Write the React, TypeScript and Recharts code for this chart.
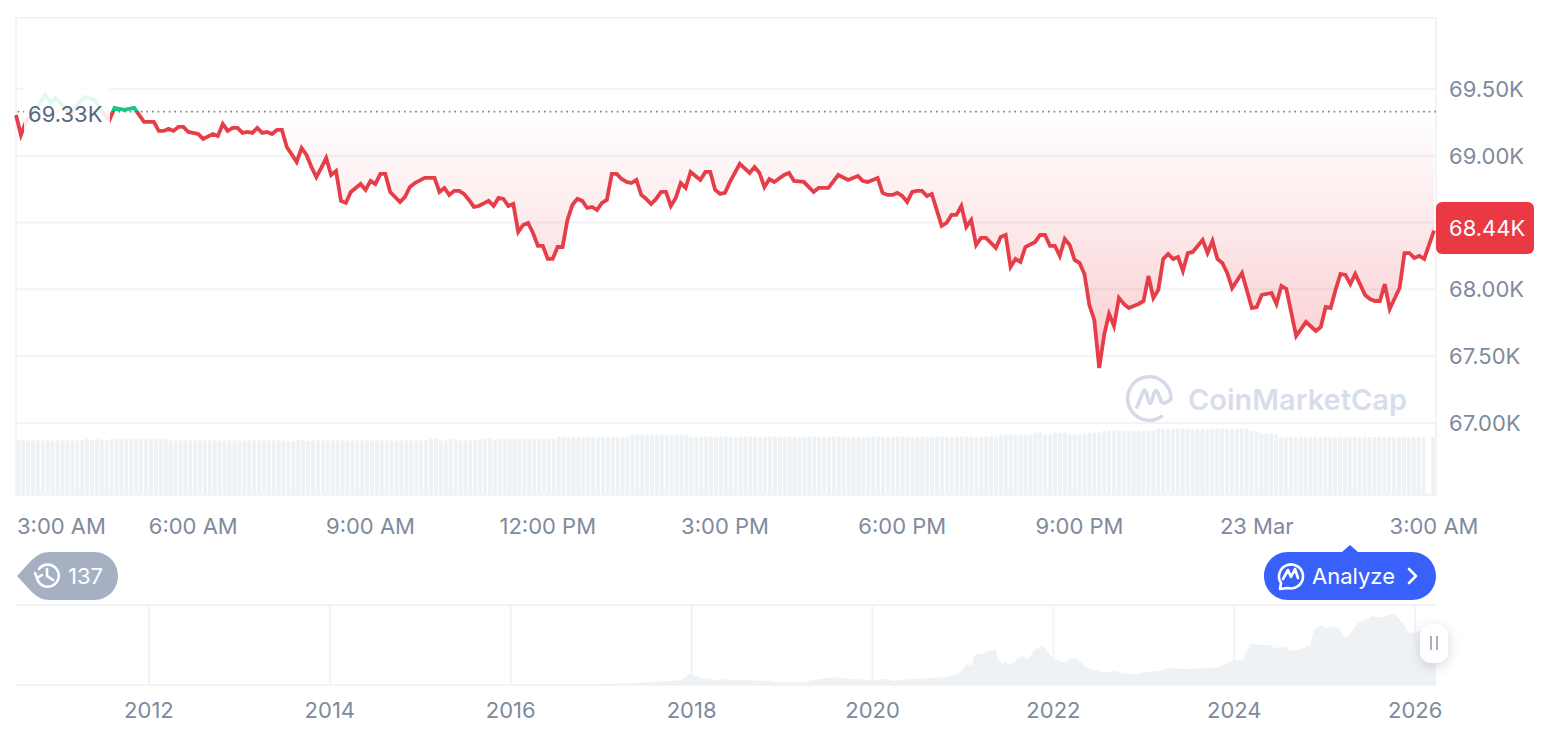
import {
  Area,
  AreaChart,
  Bar,
  BarChart,
  CartesianGrid,
  ComposedChart,
  Line,
  ReferenceLine,
  XAxis,
  YAxis,
} from "recharts";

const WIDTH = 1566;
const HEIGHT = 732;

const RED = "#ea3943";
const LINE_RED = "#e53e49";
const GREEN = "#16c784";
const GRID = "#f1f3f6";
const VOLUME = "#eff2f5";
const AXIS_TEXT = "#808a9d";
const FONT = "Inter, sans-serif";

const BASE_PRICE = 69330;
const LAST_PRICE = 68440;

// minutes since 3:00 AM
const minutes = [
  0, 5, 10, 30, 35, 40, 50, 55, 60, 70, 80, 90, 95, 100, 110, 120, 130, 140, 145, 150,
  155, 160, 165, 170, 175, 185, 190, 200, 205, 210, 215, 220, 225, 230, 235, 240, 245, 250, 255, 260,
  265, 270, 275, 285, 290, 295, 300, 305, 310, 315, 320, 325, 330, 335, 340, 350, 355, 360, 365, 370,
  375, 380, 390, 395, 400, 405, 415, 425, 430, 435, 440, 445, 450, 455, 460, 465, 470, 480, 485, 490,
  495, 500, 505, 510, 515, 520, 525, 530, 535, 540, 545, 550, 555, 560, 565, 570, 575, 580, 585, 590,
  595, 600, 605, 610, 615, 620, 625, 630, 635, 640, 645, 650, 655, 660, 665, 670, 675, 680, 685, 690,
  695, 700, 705, 710, 715, 720, 725, 735, 745, 750, 755, 760, 765, 770, 780, 785, 790, 800, 810, 815,
  825, 835, 845, 855, 860, 865, 875, 880, 885, 890, 895, 900, 905, 910, 915, 920, 925, 930, 940, 945,
  950, 955, 960, 965, 970, 975, 980, 985, 995, 1000, 1005, 1010, 1015, 1020, 1025, 1035, 1040, 1045, 1050, 1055,
  1060, 1065, 1070, 1075, 1080, 1085, 1090, 1095, 1100, 1105, 1110, 1115, 1120, 1125, 1130, 1135, 1140, 1145, 1150, 1155,
  1160, 1165, 1170, 1175, 1180, 1185, 1190, 1195, 1205, 1210, 1215, 1220, 1225, 1230, 1235, 1245, 1255, 1260, 1265, 1275,
  1280, 1285, 1290, 1300, 1310, 1320, 1325, 1330, 1335, 1340, 1345, 1350, 1355, 1360, 1370, 1375, 1380, 1385, 1390, 1395,
  1405, 1410, 1415, 1420, 1425, 1430, 1440,
];

const prices = [
  69305, 69156, 69253, 69455, 69395, 69433, 69358, 69305, 69365, 69440, 69418, 69305, 69268, 69358, 69343, 69358, 69253, 69253, 69186, 69186,
  69201, 69186, 69216, 69216, 69178, 69163, 69126, 69163, 69148, 69238, 69186, 69208, 69208, 69171, 69178, 69171, 69208, 69171, 69178, 69163,
  69193, 69193, 69066, 68954, 69058, 69006, 68916, 68841, 68909, 68984, 68856, 68886, 68662, 68647, 68729, 68789, 68744, 68811, 68789, 68864,
  68864, 68729, 68654, 68692, 68766, 68796, 68834, 68834, 68729, 68759, 68707, 68737, 68737, 68714, 68669, 68617, 68624, 68662, 68624, 68684,
  68677, 68624, 68639, 68430, 68482, 68497, 68422, 68325, 68325, 68228, 68228, 68317, 68317, 68519, 68632, 68677, 68662, 68609, 68617, 68594,
  68647, 68669, 68864, 68864, 68826, 68804, 68796, 68819, 68707, 68677, 68639, 68677, 68729, 68729, 68624, 68684, 68796, 68759, 68879, 68849,
  68819, 68879, 68879, 68744, 68714, 68722, 68804, 68939, 68871, 68916, 68871, 68766, 68826, 68804, 68856, 68871, 68811, 68804, 68729, 68759,
  68759, 68856, 68819, 68849, 68811, 68804, 68834, 68722, 68707, 68707, 68722, 68699, 68654, 68729, 68737, 68737, 68699, 68714, 68475, 68497,
  68557, 68557, 68624, 68467, 68519, 68332, 68385, 68385, 68310, 68392, 68407, 68168, 68228, 68205, 68317, 68355, 68407, 68407, 68325, 68325,
  68250, 68377, 68332, 68220, 68198, 68115, 67883, 67771, 67412, 67659, 67816, 67726, 67936, 67891, 67861, 67876, 67891, 67913, 68100, 67936,
  67996, 68228, 68265, 68228, 68243, 68138, 68272, 68280, 68370, 68272, 68362, 68228, 68198, 68123, 68010, 68123, 67861, 67868, 67958, 67973,
  67891, 68025, 68003, 67651, 67756, 67689, 67719, 67868, 67861, 67996, 68115, 68108, 68040, 68115, 67958, 67928, 67913, 67913, 68040, 67853,
  68010, 68272, 68272, 68235, 68250, 68228, 68440,
];

// 24h volume in $B, one bar per 5 minutes
const volumes = [
  22.0, 22.0, 22.0, 22.0, 22.0, 22.0, 22.0, 22.0, 22.0, 22.0,
  22.0, 22.0, 22.0, 22.0, 22.6, 22.2, 22.6, 22.2, 22.0, 22.6,
  22.6, 22.6, 22.6, 22.6, 22.6, 22.6, 22.6, 22.6, 22.6, 22.6,
  22.6, 22.0, 22.0, 22.0, 22.0, 22.0, 22.0, 22.0, 22.0, 22.0,
  22.0, 22.0, 22.0, 22.0, 22.0, 22.0, 22.0, 22.0, 22.0, 22.0,
  22.0, 22.0, 22.0, 22.0, 22.0, 21.6, 21.6, 22.2, 22.2, 21.8,
  22.0, 22.0, 22.0, 22.0, 22.0, 22.0, 22.0, 22.0, 22.0, 22.0,
  22.0, 22.0, 22.0, 22.0, 22.0, 22.0, 22.0, 22.0, 22.0, 22.0,
  22.0, 22.0, 22.0, 22.0, 22.6, 22.6, 22.0, 22.0, 22.6, 22.6,
  22.0, 22.0, 22.0, 22.0, 22.6, 22.6, 22.6, 22.0, 22.6, 22.6,
  22.6, 22.6, 22.6, 22.6, 22.6, 22.6, 22.6, 22.6, 22.6, 22.6,
  23.4, 23.4, 23.4, 23.4, 23.4, 23.4, 23.4, 23.4, 23.4, 23.4,
  23.4, 23.4, 23.4, 23.4, 23.4, 24.2, 24.2, 24.2, 24.2, 24.2,
  24.2, 24.2, 24.2, 24.2, 24.2, 24.2, 24.2, 23.5, 23.5, 23.5,
  23.5, 23.5, 23.5, 23.5, 23.5, 23.5, 23.5, 23.5, 23.5, 23.5,
  23.5, 23.5, 23.5, 23.5, 23.5, 23.5, 23.5, 23.5, 23.5, 23.5,
  23.5, 23.5, 23.5, 23.5, 23.5, 23.5, 23.5, 23.5, 23.5, 23.5,
  23.5, 23.5, 23.5, 23.5, 23.5, 23.5, 23.5, 23.5, 23.5, 23.5,
  23.5, 23.5, 23.5, 23.5, 23.5, 23.5, 23.5, 23.5, 23.5, 23.5,
  23.5, 23.5, 23.5, 23.5, 23.5, 23.5, 23.5, 23.5, 23.5, 23.5,
  24.3, 24.3, 24.3, 24.3, 24.3, 24.3, 24.3, 25.1, 25.1, 24.3,
  24.3, 25.1, 25.1, 25.1, 24.3, 24.3, 24.3, 24.3, 25.1, 25.1,
  25.1, 25.9, 25.9, 25.9, 25.9, 25.9, 25.9, 25.9, 25.9, 25.9,
  25.9, 25.9, 26.7, 26.7, 26.7, 26.7, 26.7, 26.7, 26.7, 26.7,
  26.7, 26.7, 26.7, 26.7, 26.7, 26.7, 26.7, 26.7, 26.7, 26.7,
  26.7, 25.7, 25.7, 24.7, 24.7, 24.7, 24.3, 23.3, 23.3, 23.3,
  23.3, 23.3, 23.3, 23.3, 23.3, 23.3, 23.3, 23.3, 23.3, 23.3,
  23.3, 23.3, 23.3, 23.3, 23.3, 23.3, 23.3, 23.3, 23.3, 23.3,
  23.3, 23.3, 23.3, 23.3, 23.3, 23.3, 23.3, 0, 23.3,
];

const priceTicks = [67000, 67500, 68000, 68500, 69000, 69500];
const timeTicks = [0, 180, 360, 540, 720, 900, 1080, 1260, 1440];
const timeLabels = ["3:00 AM", "6:00 AM", "9:00 AM", "12:00 PM", "3:00 PM", "6:00 PM", "9:00 PM", "23 Mar", "3:00 AM"];

// all-time navigator below the chart
const navYears = [
  2010.53, 2012, 2014, 2016, 2017, 2017.44, 2017.61, 2017.75, 2017.86, 2017.92, 2017.97, 2018, 2018.03, 2018.07, 2018.14, 2018.2, 2018.26, 2018.35, 2018.45, 2018.58,
  2018.75, 2018.88, 2018.94, 2019.22, 2019.34, 2019.51, 2019.6, 2019.75, 2019.85, 2019.98, 2020.15, 2020.23, 2020.4, 2020.66, 2020.83, 2020.95, 2021.04, 2021.1, 2021.12, 2021.17,
  2021.2, 2021.27, 2021.36, 2021.4, 2021.44, 2021.47, 2021.5, 2021.57, 2021.61, 2021.67, 2021.72, 2021.78, 2021.82, 2021.88, 2021.93, 2021.99, 2022.05, 2022.12, 2022.18, 2022.25,
  2022.31, 2022.37, 2022.56, 2022.67, 2022.78, 2022.9, 2023.03, 2023.16, 2023.3, 2023.45, 2023.63, 2023.82, 2024, 2024.09, 2024.18, 2024.28, 2024.39, 2024.46, 2024.55, 2024.62,
  2024.73, 2024.84, 2024.88, 2024.95, 2025.01, 2025.1, 2025.16, 2025.21, 2025.27, 2025.36, 2025.43, 2025.52, 2025.63, 2025.76, 2025.87, 2025.93, 2026.02, 2026.06, 2026.13, 2026.23,
];

const navPrices = [
  700, 800, 900, 1000, 1500, 4081, 5830, 7000, 8160, 11660, 19240, 20400, 14575, 15740, 9900, 12240, 8160, 9900, 8160, 9330,
  7580, 7580, 4660, 4660, 8160, 12800, 13400, 9900, 9900, 8160, 11000, 7000, 9900, 12240, 14000, 20400, 36000, 35000, 50700, 55000,
  53600, 59500, 61200, 42000, 37900, 42000, 35000, 39000, 47800, 50700, 44900, 59500, 64100, 69400, 59500, 49000, 43700, 39000, 46000, 47800,
  39000, 30300, 21500, 24500, 20400, 18650, 22700, 25000, 30300, 27400, 29150, 31000, 43700, 43700, 72900, 70000, 70000, 64100, 67000, 60000,
  62400, 70000, 96200, 105000, 99100, 103000, 99000, 84500, 87500, 107900, 112500, 120700, 118300, 125300, 107900, 90400, 93300, 96000, 90000, 93000,
];

const yearTicks = [2012, 2014, 2016, 2018, 2020, 2022, 2024, 2026];

const priceRows = minutes.map((minute, i) => ({ minute, price: prices[i] }));
const volumeRows = volumes.map((volume, i) => ({ bar: i, volume: volume || null }));
const navRows = navYears.map((year, i) => ({ year, price: navPrices[i] }));

const formatK = (v: number) => `${(v / 1000).toFixed(2)}K`;

// the 68.50K label sits behind the current price tag, so only its grid line shows
const formatPriceTick = (v: number) => (v === 68500 ? "" : formatK(v));

function TimeTick({ x, y, payload }: any) {
  const i = timeTicks.indexOf(payload.value);
  return (
    <text
      x={i === 0 ? 17 : x}
      y={y + 31}
      textAnchor={i === 0 ? "start" : "middle"}
      fontSize={22}
      fontFamily={FONT}
      fill={AXIS_TEXT}
    >
      {timeLabels[i]}
    </text>
  );
}

function YearTick({ x, y, payload }: any) {
  return (
    <text x={x} y={y + 25} textAnchor="middle" fontSize={22} fontFamily={FONT} fill={AXIS_TEXT}>
      {payload.value}
    </text>
  );
}

function Watermark() {
  return (
    <>
      <svg width={50} height={52} style={{ position: "absolute", left: 1124, top: 372 }} viewBox="0 0 50 52" fill="none">
        <path
          d="M37.5 44.5 A21.7 21.7 0 1 1 47 26.3 M13 35 L19 20 Q20.5 16 22 20 L25 30 Q26 33 27.5 30 L30 21 Q32 16 34 21 L37 29 Q40 34 47 27"
          stroke="#d4dbe7"
          strokeWidth={3.6}
          strokeLinecap="round"
          strokeLinejoin="round"
        />
      </svg>
      <div
        style={{
          position: "absolute",
          left: 1188,
          top: 382,
          fontFamily: FONT,
          fontWeight: 600,
          fontSize: 29,
          lineHeight: "36px",
          color: "#d8dee9",
        }}
      >
        CoinMarketCap
      </div>
    </>
  );
}

function HistoryTag() {
  return (
    <>
      <svg width={104} height={48} style={{ position: "absolute", left: 16, top: 552 }} viewBox="0 0 104 48">
        <path d="M1 24 L13 11 C20 3 26 0 34 0 L78 0 C92 0 102 11 102 24 C102 37 92 48 78 48 L34 48 C26 48 20 45 13 37 Z" fill="#a6b0c3" />
        <g fill="none" stroke="#fff" strokeWidth={2.6} strokeLinecap="round" strokeLinejoin="round">
          <path d="M23 17 A11 11 0 1 1 21 26" />
          <path d="M31 17 L31 24 L37 28" />
          <path d="M19 21 L21 26 L26 23" />
        </g>
      </svg>
      <div style={{ position: "absolute", left: 68, top: 563, fontFamily: FONT, fontSize: 22, lineHeight: "27px", color: "#fff" }}>137</div>
    </>
  );
}

function AnalyzeButton() {
  return (
    <>
      <svg width={174} height={58} style={{ position: "absolute", left: 1263, top: 543 }} viewBox="0 0 174 58">
        <path d="M79 9 L87 2 L95 9 L149 9 C163 9 173 20 173 33 C173 46 163 57 149 57 L25 57 C11 57 1 46 1 33 C1 20 11 9 25 9 Z" fill="#3861fb" />
        <g fill="none" stroke="#fff" strokeWidth={2.6} strokeLinecap="round" strokeLinejoin="round">
          <path d="M17 46 L18 40 A12 12 0 1 1 25 45 Z" />
          <path d="M20 36 L25 27 L28 34 L32 26 L35 35" />
          <path d="M146 26 L153 33 L146 40" />
        </g>
      </svg>
      <div style={{ position: "absolute", left: 1312, top: 563, fontFamily: FONT, fontSize: 22, lineHeight: "27px", color: "#fff" }}>Analyze</div>
    </>
  );
}

function SliderHandle() {
  return (
    <div
      style={{
        position: "absolute",
        left: 1420,
        top: 624,
        width: 28,
        height: 39,
        borderRadius: 11,
        background: "#fff",
        boxShadow: "0 3px 12px rgba(88,102,126,0.25)",
      }}
    >
      <div style={{ position: "absolute", left: 10, top: 12, width: 2, height: 14, background: "#a6b0c3" }} />
      <div style={{ position: "absolute", left: 16, top: 12, width: 2, height: 14, background: "#a6b0c3" }} />
    </div>
  );
}

export default function App() {
  return (
    <div style={{ position: "absolute", left: 0, top: 0, width: WIDTH, height: HEIGHT, background: "#fff", overflow: "hidden" }}>
      <div style={{ position: "absolute", left: 0, top: 0 }}>
        <BarChart
          width={WIDTH}
          height={HEIGHT}
          data={volumeRows}
          margin={{ top: 395, right: 130, bottom: 237, left: 16 }}
          barCategoryGap={0.25}
        >
          <XAxis dataKey="bar" hide />
          <YAxis hide domain={[0, 40]} />
          <Bar dataKey="volume" fill={VOLUME} radius={[2, 2, 0, 0]} isAnimationActive={false} />
        </BarChart>
      </div>

      <div style={{ position: "absolute", left: 0, top: 0 }}>
        <ComposedChart
          width={WIDTH}
          height={HEIGHT}
          data={priceRows}
          margin={{ top: 18, right: 0, bottom: 197, left: 16 }}
        >
          <defs>
            <linearGradient id="priceStroke" gradientUnits="userSpaceOnUse" x1="0" y1="0" x2="0" y2={HEIGHT}>
              <stop offset={0.1516} stopColor={GREEN} />
              <stop offset={0.1516} stopColor={LINE_RED} />
            </linearGradient>
            <linearGradient id="priceFill" gradientUnits="userSpaceOnUse" x1="0" y1="80" x2="0" y2="368">
              <stop offset={0} stopColor={GREEN} stopOpacity={0.12} />
              <stop offset={0.107} stopColor={GREEN} stopOpacity={0} />
              <stop offset={0.108} stopColor={RED} stopOpacity={0} />
              <stop offset={1} stopColor={RED} stopOpacity={0.25} />
            </linearGradient>
          </defs>
          <CartesianGrid vertical={false} stroke={GRID} strokeWidth={2} />
          <XAxis
            type="number"
            dataKey="minute"
            domain={[0, 1442]}
            ticks={timeTicks}
            interval={0}
            height={40}
            tick={<TimeTick />}
            tickLine={false}
            axisLine={false}
          />
          <YAxis
            orientation="right"
            width={130}
            domain={[66461, 70031]}
            allowDataOverflow
            ticks={priceTicks}
            interval={0}
            tickFormatter={formatPriceTick}
            tick={{ fontSize: 22, fontFamily: FONT, fill: AXIS_TEXT }}
            tickLine={false}
            axisLine={false}
            tickMargin={7}
          />
          <ReferenceLine x={0} stroke={GRID} strokeWidth={2} />
          <ReferenceLine x={1442} stroke={GRID} strokeWidth={2} />
          <ReferenceLine y={70031} stroke={GRID} strokeWidth={2} />
          <ReferenceLine y={BASE_PRICE} stroke="#7f7f7f" strokeWidth={1.6} strokeDasharray="1.6 4" />
          <Area
            dataKey="price"
            baseValue={BASE_PRICE}
            stroke="none"
            fill="url(#priceFill)"
            fillOpacity={1}
            dot={false}
            activeDot={false}
            isAnimationActive={false}
          />
          <Line
            dataKey="price"
            stroke="url(#priceStroke)"
            strokeWidth={3.8}
            dot={false}
            activeDot={false}
            isAnimationActive={false}
          />
        </ComposedChart>
      </div>

      <div style={{ position: "absolute", left: 0, top: 0 }}>
        <AreaChart
          width={WIDTH}
          height={HEIGHT}
          data={navRows}
          margin={{ top: 605, right: 130, bottom: 7, left: 16 }}
        >
          <CartesianGrid horizontal={false} verticalValues={yearTicks} stroke={GRID} strokeWidth={2} />
          <XAxis
            type="number"
            dataKey="year"
            domain={[2010.53, 2026.23]}
            ticks={yearTicks}
            interval={0}
            height={40}
            tick={<YearTick />}
            tickLine={false}
            axisLine={false}
          />
          <YAxis hide domain={[0, 140000]} />
          <ReferenceLine y={140000} stroke={GRID} strokeWidth={2} />
          <Area dataKey="price" stroke="none" fill={VOLUME} fillOpacity={1} dot={false} activeDot={false} isAnimationActive={false} />
          <ReferenceLine y={0} stroke={VOLUME} strokeWidth={1.5} />
        </AreaChart>
      </div>

      <div
        style={{
          position: "absolute",
          left: 24,
          top: 88,
          width: 86,
          height: 52,
          background: "rgba(255,255,255,0.88)",
          fontFamily: FONT,
          fontSize: 22,
          lineHeight: "52px",
          paddingLeft: 4,
          boxSizing: "border-box",
          color: "#58667e",
        }}
      >
        {formatK(BASE_PRICE)}
      </div>
      <div
        style={{
          position: "absolute",
          left: 1436,
          top: 202,
          width: 98,
          height: 52,
          borderRadius: 6,
          background: RED,
          fontFamily: FONT,
          fontSize: 22,
          lineHeight: "52px",
          paddingLeft: 13,
          boxSizing: "border-box",
          color: "#fff",
        }}
      >
        {formatK(LAST_PRICE)}
      </div>

      <Watermark />
      <HistoryTag />
      <AnalyzeButton />
      <SliderHandle />
    </div>
  );
}
